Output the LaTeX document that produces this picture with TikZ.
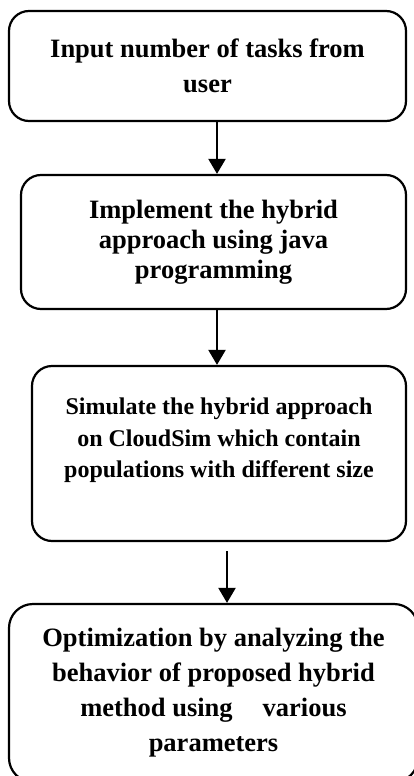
\documentclass[tikz,border=0pt]{standalone}
\usepackage{fontspec}
\setmainfont{Liberation Serif}
\usetikzlibrary{arrows.meta}

\begin{document}
\begin{tikzpicture}[x=1pt,y=1pt,line width=2.2pt,
    stage/.style={draw,rounded corners=20pt,inner sep=0pt,align=center,
      font=\fontsize{26.5}{35}\selectfont\bfseries},
    flow/.style={-{Triangle[length=15pt,width=17pt]}}]
  \useasboundingbox (0,0) rectangle (414,-776);
  \clip (0,0) rectangle (414,-776);
  \node[stage,minimum width=397pt,minimum height=110pt] (input) at (207.5,-66)
       {Input number of tasks from\\user};
  \node[stage,minimum width=385pt,minimum height=134pt,
        font=\fontsize{26.5}{30}\selectfont\bfseries] (impl) at (213.5,-242)
       {Implement the hybrid\\approach using java\\programming};
  \node[stage,minimum width=374pt,minimum height=175pt,
        font=\fontsize{24}{31.5}\selectfont\bfseries] (sim) at (219,-453.5)
       {Simulate the hybrid approach\\on CloudSim which contain\\populations with different size\\ \mbox{}};
  % last box runs off the page on the right and at the bottom
  \node[stage,minimum width=409pt,minimum height=178pt,rounded corners=24pt] (opt) at (213.5,-693)
       {Optimization by analyzing the\\behavior of proposed hybrid\\method using\hspace{30pt}various\\parameters};
  \coordinate (gap) at (227,-551);
  \draw[flow] (input.south -| 217,0) -- (impl.north -| 217,0);
  \draw[flow] (impl.south -| 217,0) -- (sim.north -| 217,0);
  \draw[flow] (gap) -- (opt.north -| gap);
\end{tikzpicture}
\end{document}
